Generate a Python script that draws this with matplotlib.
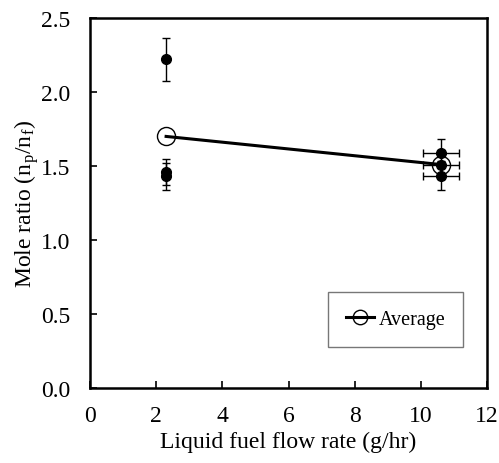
import matplotlib
matplotlib.use("Agg")
import matplotlib.pyplot as plt

plt.rcParams['font.family'] = ['Liberation Serif', 'DejaVu Serif']
plt.rcParams['mathtext.fontset'] = 'stix'

# measured points
flow = [2.3, 2.3, 2.3, 10.6, 10.6, 10.6]
ratio = [2.22, 1.43, 1.46, 1.585, 1.51, 1.435]
ratio_err = [0.145, 0.09, 0.09, 0.10, 0.10, 0.10]
flow_err = [0.0, 0.0, 0.0, 0.55, 0.55, 0.55]

# averages
avg_flow = [2.3, 10.6]
avg_ratio = [1.70, 1.51]

fig = plt.figure(figsize=(4.99, 4.64), dpi=100)
ax = fig.add_axes([0.1804, 0.1616, 0.7956, 0.7974])

ax.errorbar(flow, ratio, yerr=ratio_err, xerr=flow_err, fmt='o', color='black',
            markersize=7, elinewidth=1, capsize=3, capthick=1, zorder=3)
ax.plot(avg_flow, avg_ratio, '-o', color='black', lw=2.2, markersize=13,
        markerfacecolor='none', markeredgewidth=1, label='Average', zorder=2)

ax.set_xlim(0, 12)
ax.set_ylim(0, 2.5)
ax.set_xticks(range(0, 13, 2))
ax.set_yticks([0, 0.5, 1.0, 1.5, 2.0, 2.5])
ax.set_yticklabels(['0.0', '0.5', '1.0', '1.5', '2.0', '2.5'])
ax.tick_params(direction='in', labelsize=17, width=1.2, length=5)
ax.tick_params(axis='x', pad=12)
ax.tick_params(axis='y', pad=14)
for s in ax.spines.values():
    s.set_linewidth(1.8)

ax.set_xlabel('Liquid fuel flow rate (g/hr)', fontsize=17, labelpad=4)
ax.set_ylabel(r'Mole ratio (n$_\mathregular{p}$/n$_\mathregular{f}$)', fontsize=17, labelpad=0)

leg = ax.legend(loc='lower right', bbox_to_anchor=(0.94, 0.11), borderaxespad=0,
                fancybox=False, fontsize=14.5, handlelength=1.4, handletextpad=0.2,
                borderpad=0.9, markerscale=0.8)
leg.get_frame().set_edgecolor('#555555')
leg.get_frame().set_linewidth(1)

fig.savefig('out.png', dpi=100)
